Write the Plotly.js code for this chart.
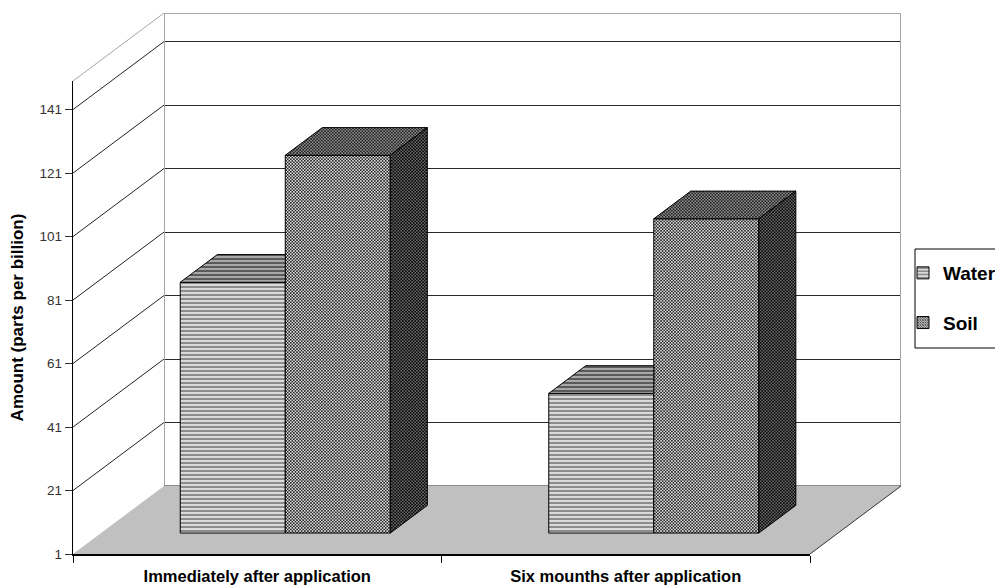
<!DOCTYPE html>
<html>
<head>
<meta charset="utf-8">
<script src="https://cdn.plot.ly/plotly-3.0.1.min.js"></script>
<style>html,body{margin:0;padding:0;background:#fff;overflow:hidden}</style>
</head>
<body>
<div id="chart" style="width:995px;height:586px"></div>
<script>
const categories = ['Immediately after application', 'Six mounths after application'];
const water = [80, 45];
const soil = [120, 100];
const yTicks = [1, 21, 41, 61, 81, 101, 121, 141];
const yTop = 150;

const W = 995, H = 586, L = 73, T = 13, PW = 828, PH = 541;
const catPx = 368.5, depthPx = 91, risePx = 68;
const unitPx = (PH - risePx) / (yTop - 1);
const xFull = PW / catPx, yFull = 1 + PH / unitPx;
const dX = depthPx / catPx, dY = risePx / unitPx;
const barW = 0.285, d0 = 0.308, d1 = 0.715;
const X = (x, d) => x + d * dX;
const Y = (v, d) => v + d * dY;

const waterPat = {shape: '-', size: 4, solidity: 0.5, fgcolor: '#8c8c8c', bgcolor: '#dadada'};
const waterTop = {shape: '-', size: 4, solidity: 0.5, fgcolor: '#5a5a5a', bgcolor: '#a8a8a8'};
const soilPat = {shape: 'x', size: 2.2, solidity: 0.55, fgcolor: '#1a1a1a', bgcolor: '#dcdcdc'};
const soilTop = {shape: 'x', size: 2.2, solidity: 0.55, fgcolor: '#1a1a1a', bgcolor: '#8c8c8c'};
const soilSide = {shape: 'x', size: 2.2, solidity: 0.55, fgcolor: '#000', bgcolor: '#686868'};

const left = (i, s) => i + 0.5 + (s - 1) * barW;   // s=0 water, s=1 soil
const poly = (xs, ys, pat) => ({
  type: 'scatter', mode: 'lines', xaxis: 'x2', yaxis: 'y2', x: xs, y: ys, fill: 'toself',
  fillpattern: pat, fillcolor: pat.bgcolor, line: {color: '#000', width: 1},
  showlegend: false, hoverinfo: 'skip'
});

const traces = [];
// back wall outline (on the back-wall axes, so these axes and their gridlines exist)
traces.push({type: 'scatter', mode: 'lines', xaxis: 'x', yaxis: 'y', cliponaxis: false,
  x: [0, 0, 2, 2], y: [1, yTop, yTop, 1], line: {color: '#a6a6a6', width: 2},
  showlegend: false, hoverinfo: 'skip'});
traces.push({type: 'scatter', mode: 'lines', xaxis: 'x', yaxis: 'y', cliponaxis: false,
  x: [0, 2], y: [1, 1], line: {color: '#666', width: 1.5}, showlegend: false, hoverinfo: 'skip'});

// front-face bars
[[water, 'Water', 0, waterPat], [soil, 'Soil', 1, soilPat]].forEach(([vals, name, s, pat]) => {
  traces.push({type: 'bar', name, legendgroup: name, xaxis: 'x2', yaxis: 'y2',
    x: vals.map((_, i) => X(left(i, s) + barW / 2, d0)),
    y: vals.map(v => v - 1),
    base: vals.map(() => Y(1, d0)),
    width: barW,
    marker: {color: pat.bgcolor, pattern: pat, line: {color: '#000', width: 1}}});
});

// left wall diagonals
const diagX = [], diagY = [];
yTicks.slice(1).forEach(v => { diagX.push(X(0, 0), X(0, 1), null); diagY.push(Y(v, 0), Y(v, 1), null); });
traces.push({type: 'scatter', mode: 'lines', xaxis: 'x2', yaxis: 'y2', x: diagX, y: diagY,
  connectgaps: false, line: {color: '#222', width: 1}, showlegend: false, hoverinfo: 'skip'});
traces.push({type: 'scatter', mode: 'lines', xaxis: 'x2', yaxis: 'y2',
  x: [X(0, 0), X(0, 1)], y: [Y(yTop, 0), Y(yTop, 1)], line: {color: '#a6a6a6', width: 1},
  showlegend: false, hoverinfo: 'skip'});
traces.push({type: 'scatter', mode: 'lines', xaxis: 'x2', yaxis: 'y2',
  x: [X(2, 0), X(2, 1)], y: [Y(1, 0), Y(1, 1)], line: {color: '#333', width: 1},
  showlegend: false, hoverinfo: 'skip'});

// water tops (the soil bar in front hides the rest)
water.forEach((v, i) => {
  const a = left(i, 0), b = left(i, 1);
  traces.push(poly(
    [X(a, d0), X(a, d1), X(b, d0), X(b, d0), X(a, d0)],
    [Y(v, d0), Y(v, d1), Y(v, d1), Y(v, d0), Y(v, d0)], waterTop));
});
// soil tops and sides
soil.forEach((v, i) => {
  const a = left(i, 1), b = a + barW;
  traces.push(poly(
    [X(a, d0), X(a, d1), X(b, d1), X(b, d0), X(a, d0)],
    [Y(v, d0), Y(v, d1), Y(v, d1), Y(v, d0), Y(v, d0)], soilTop));
  traces.push(poly(
    [X(b, d0), X(b, d1), X(b, d1), X(b, d0), X(b, d0)],
    [Y(v, d0), Y(v, d1), Y(1, d1), Y(1, d0), Y(v, d0)], soilSide));
});
// carrier for the front axes
traces.push({type: 'scatter', mode: 'none', xaxis: 'x3', yaxis: 'y3', x: [0, 2], y: [1, yTop],
  showlegend: false, hoverinfo: 'skip'});

const fp = [[0, 0], [2, 0], [2, 1], [0, 1]];
const floorPath = fp.map((p, i) => (i ? 'L' : 'M') + X(p[0], p[1]) + ',' + Y(1, p[1])).join(' ') + ' Z';

const hidden = {visible: false};
const layout = {
  width: W, height: H,
  margin: {l: L, r: W - L - PW, t: T, b: H - T - PH, autoexpand: false},
  paper_bgcolor: '#fff', plot_bgcolor: 'rgba(0,0,0,0)',
  font: {family: 'Liberation Sans, Arial, sans-serif', color: '#000'},
  barmode: 'overlay',
  // back wall
  xaxis: {domain: [depthPx / PW, 1], range: [0, 2], showgrid: false, zeroline: false, showline: false, ticks: '', showticklabels: false},
  yaxis: {domain: [risePx / PH, 1], range: [1, yTop], tickmode: 'array', tickvals: yTicks, showticklabels: false, ticks: '',
    showgrid: true, gridcolor: '#2a2a2a', gridwidth: 1, zeroline: false, showline: false},
  // drawing plane
  xaxis2: Object.assign({anchor: 'y2', domain: [0, 1], range: [0, xFull]}, hidden),
  yaxis2: Object.assign({anchor: 'x2', domain: [0, 1], range: [1, yFull]}, hidden),
  // front axes
  xaxis3: {anchor: 'y3', domain: [0, (PW - depthPx) / PW], range: [0, 2],
    tickmode: 'array', tickvals: categories.map((_, i) => i + 0.5), ticktext: categories,
    ticks: 'outside', ticklen: 7, tickcolor: 'rgba(0,0,0,0)', ticklabelstandoff: 0,
    tickfont: {size: 16.5, color: '#000', family: 'Liberation Sans, Arial, sans-serif', weight: 'bold'},
    showline: true, linecolor: '#000', linewidth: 1.5, showgrid: false, zeroline: false,
    minor: {tickmode: 'array', tickvals: [0, 1, 2], ticks: 'outside', ticklen: 7, tickcolor: '#000', tickwidth: 1, showgrid: false}},
  yaxis3: {anchor: 'x3', domain: [0, (PH - risePx) / PH], range: [1, yTop],
    tickmode: 'array', tickvals: yTicks, ticks: 'outside', ticklen: 7, tickcolor: '#333', tickwidth: 1,
    tickfont: {size: 13.5, color: '#333'}, showline: true, linecolor: '#000', linewidth: 1.2,
    showgrid: false, zeroline: false,
    title: {text: 'Amount (parts per billion)', font: {size: 17, weight: 'bold', color: '#000'}, standoff: 11}},
  shapes: [
    {type: 'path', xref: 'x2', yref: 'y2', path: floorPath, fillcolor: '#c0c0c0', line: {width: 0}, layer: 'below'},
    {type: 'rect', xref: 'paper', yref: 'paper', x0: (915 - L) / PW, x1: (1010 - L) / PW,
      y0: (T + PH - 348) / PH, y1: (T + PH - 249) / PH, line: {color: '#000', width: 1}, fillcolor: 'rgba(0,0,0,0)'}
  ],
  showlegend: true,
  legend: {x: (903 - L) / PW, xanchor: 'left', y: (T + PH - 298) / PH, yanchor: 'middle',
    bgcolor: 'rgba(0,0,0,0)', borderwidth: 0, traceorder: 'grouped', tracegroupgap: 22,
    font: {size: 19, weight: 'bold', color: '#000'}}
};

Plotly.newPlot('chart', traces, layout, {displayModeBar: false, staticPlot: true});
</script>
</body>
</html>
